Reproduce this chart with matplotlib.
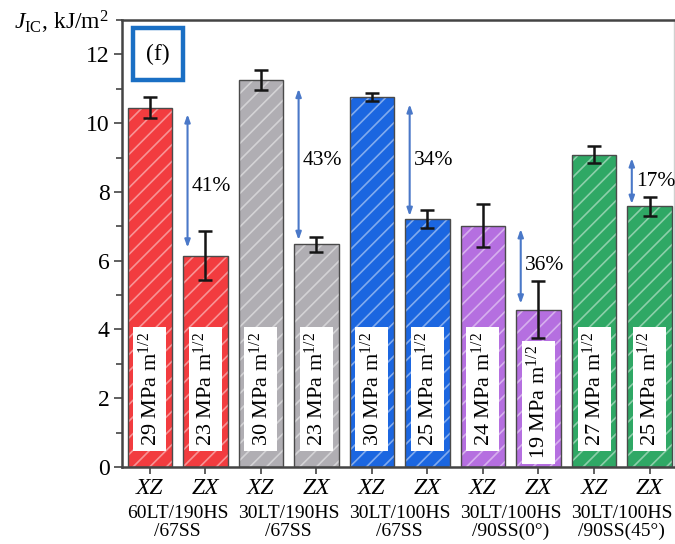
import matplotlib
matplotlib.use("Agg")
import matplotlib.pyplot as plt
from matplotlib.patches import Rectangle
from matplotlib.ticker import MultipleLocator
import numpy as np

plt.rcParams["font.family"] = ["Liberation Serif", "DejaVu Serif"]
plt.rcParams["mathtext.fontset"] = "custom"
plt.rcParams["mathtext.rm"] = "Liberation Serif"
plt.rcParams["mathtext.it"] = "Liberation Serif:italic"
plt.rcParams["hatch.linewidth"] = 1.2

# Data
orientations = ["XZ", "ZX", "XZ", "ZX", "XZ", "ZX", "XZ", "ZX", "XZ", "ZX"]
groups = ["60LT/190HS\n/67SS", "30LT/190HS\n/67SS", "30LT/100HS\n/67SS",
          "30LT/100HS\n/90SS(0°)", "30LT/100HS\n/90SS(45°)"]
j_ic = [10.45, 6.15, 11.25, 6.48, 10.77, 7.22, 7.02, 4.58, 9.08, 7.58]
j_err = [0.30, 0.72, 0.29, 0.22, 0.12, 0.26, 0.62, 0.84, 0.25, 0.27]
k_ic = [29, 23, 30, 23, 30, 25, 24, 19, 27, 25]
drops = ["41%", "43%", "34%", "36%", "17%"]
arrow_top = [10.26, 11.0, 10.55, 6.92, 8.98]
arrow_bottom = [6.38, 6.6, 7.3, 4.75, 7.65]
arrow_text_y = [8.15, 8.9, 8.9, 5.85, 8.3]

group_colors = ["#f23c3f", "#b0aeb3", "#1b66e0", "#b56fe0", "#2fa865"]
bar_colors = [c for c in group_colors for _ in range(2)]

fig = plt.figure(figsize=(6.75, 5.44), dpi=100)
ax = fig.add_axes([122 / 675, 1 - 467 / 544, 552 / 675, 447 / 544])

x = np.arange(len(j_ic))
ax.bar(x, j_ic, width=0.8, color=bar_colors, edgecolor=(1, 1, 1, 0.45),
       hatch="//", linewidth=0, zorder=2)
ax.bar(x, j_ic, width=0.8, fill=False, edgecolor="#4a4a4a", linewidth=1.0, zorder=3)
ax.errorbar(x, j_ic, yerr=j_err, fmt="none", ecolor="#151515", elinewidth=1.8,
            capsize=5, capthick=1.8, zorder=5)

# Fracture toughness labels inside bars
for xi, k in zip(x, k_ic):
    y0 = 0.22 if k == 19 else 0.62
    ax.text(xi, y0, f"{k} MPa m$^{{1/2}}$", rotation=90, ha="center", va="bottom",
            fontsize=16, zorder=6,
            bbox=dict(boxstyle="square,pad=0.22", fc="white", ec="none"))

# Reduction arrows between orientation pairs
arrow_color = "#4a78c8"
for i, (lbl, yt, yb, ty) in enumerate(zip(drops, arrow_top, arrow_bottom, arrow_text_y)):
    xa = 2 * i + 0.68
    ax.annotate("", xy=(xa, yb), xytext=(xa, yt),
                arrowprops=dict(arrowstyle="<|-|>,head_length=0.45,head_width=0.16",
                                color=arrow_color, lw=1.5, shrinkA=0, shrinkB=0),
                zorder=4)
    ax.text(xa + 0.07, ty, lbl, ha="left", va="center", fontsize=15.5, zorder=6)

ax.set_xlim(-0.5, 9.44)
ax.set_ylim(0, 13)
ax.yaxis.set_major_locator(MultipleLocator(2))
ax.yaxis.set_minor_locator(MultipleLocator(1))
ax.set_yticks(np.arange(0, 13, 2))
ax.set_xticks(x)
ax.set_xticklabels(orientations, fontstyle="italic", fontsize=17)
ax.tick_params(axis="y", which="major", length=6, width=1.2, labelsize=17,
               color="#444444", pad=3)
ax.tick_params(axis="y", which="minor", length=4, width=1.2, color="#444444")
ax.tick_params(axis="x", length=5, width=1.2, color="#444444", pad=3)

for side in ["left", "bottom", "top"]:
    ax.spines[side].set_color("#444444")
    ax.spines[side].set_linewidth(1.8)
ax.spines["right"].set_color("#d0d0d0")
ax.spines["right"].set_linewidth(1.0)

# Group names under each orientation pair
for gi, g in enumerate(groups):
    ax.text(2 * gi + 0.5, -1.1, g, ha="center", va="top", fontsize=14,
            linespacing=1.1, transform=ax.transData, clip_on=False)

# Panel tag
fig.patches.append(Rectangle((133 / 675, 1 - 80 / 544), 50 / 675, 52 / 544,
                             transform=fig.transFigure, fill=False,
                             edgecolor="#1a6fc4", linewidth=3.2, zorder=10))
fig.text(158 / 675, 1 - 54 / 544, "(f)", ha="center", va="center", fontsize=17)

# Axis title
fig.text(14 / 675, 1 - 22 / 544, r"$J_{\rm IC}$, kJ/m$^2$", ha="left", va="center",
         fontsize=17)

fig.savefig("out.png", dpi=100)
